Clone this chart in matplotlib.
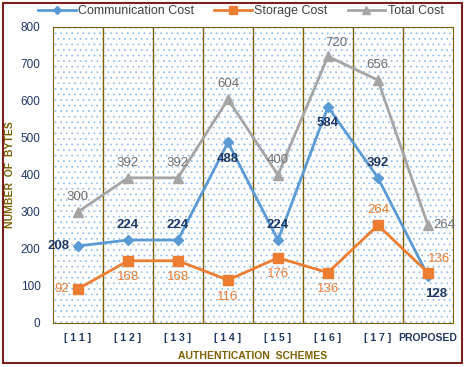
import numpy as np
import matplotlib.pyplot as plt
from matplotlib.patches import Rectangle

schemes = ['[ 1 1 ]', '[ 1 2 ]', '[ 1 3 ]', '[ 1 4 ]', '[ 1 5 ]', '[ 1 6 ]', '[ 1 7 ]', 'PROPOSED']
comm = [208, 224, 224, 488, 224, 584, 392, 128]
storage = [92, 168, 168, 116, 176, 136, 264, 136]
total = [300, 392, 392, 604, 400, 720, 656, 264]

# label placement per point: (dx, dy) in points
comm_off = [(-14, 0), (0, 11), (0, 11), (0, -12), (0, 11), (0, -12), (0, 11), (6, -13)]
stor_off = [(-12, 0), (0, -12), (0, -12), (0, -12), (0, -12), (0, -12), (0, 11), (8, 10)]
tot_off = [(0, 11), (0, 11), (0, 11), (0, 11), (0, 11), (6, 10), (0, 11), (12, 0)]

blue, orange, gray = '#5B9BD5', '#ED7D31', '#A5A5A5'
navy, olive = '#1F3864', '#7F6000'

plt.rcParams['font.family'] = ['Liberation Sans', 'DejaVu Sans']
plt.rcParams['hatch.linewidth'] = 0.5
fig = plt.figure(figsize=(4.65, 3.67), dpi=100)
fig.patches.append(Rectangle((0.006, 0.012), 0.988, 0.98, transform=fig.transFigure,
                             fill=False, edgecolor='#7B1F1F', linewidth=1.5))
ax = fig.add_axes([0.114, 0.120, 0.860, 0.807])

x = np.arange(len(schemes))
ax.add_patch(Rectangle((-0.5, 0), len(schemes), 800, facecolor='white',
                       hatch='...', edgecolor='#8DBBE8', linewidth=0, zorder=0))
for b in np.arange(0.5, len(schemes) - 0.5, 1):
    ax.axvline(b, color=olive, linewidth=1, zorder=1)

ax.plot(x, comm, color=blue, marker='D', markersize=5, linewidth=2, label='Communication Cost', zorder=3)
ax.plot(x, storage, color=orange, marker='s', markersize=7, linewidth=2, label='Storage Cost', zorder=3)
ax.plot(x, total, color=gray, marker='^', markersize=7, linewidth=2, label='Total Cost', zorder=3)

for vals, offs, col, w in [(comm, comm_off, navy, 'bold'), (storage, stor_off, orange, 'normal'),
                           (total, tot_off, '#707070', 'normal')]:
    for xi, v, (dx, dy) in zip(x, vals, offs):
        ax.annotate(str(v), (xi, v), xytext=(dx, dy), textcoords='offset points',
                    ha='center', va='center', color=col, fontsize=9.5, fontweight=w, zorder=4)

ax.set_xlim(-0.5, len(schemes) - 0.5)
ax.set_ylim(0, 800)
ax.set_yticks(range(0, 801, 100))
ax.set_xticks(x)
ax.set_xticklabels(schemes, fontsize=7.5, fontweight='bold', color=navy)
ax.tick_params(axis='y', labelsize=8.5, labelcolor=navy, length=0, pad=9)
ax.tick_params(axis='x', length=0, pad=7)
for s in ax.spines.values():
    s.set_color(olive)
ax.set_xlabel('AUTHENTICATION  SCHEMES', fontsize=7.5, fontweight='bold', color=olive, labelpad=6)
ax.set_ylabel('NUMBER  OF  BYTES', fontsize=7.5, fontweight='bold', color=olive, labelpad=4)

ax.legend(loc='lower center', bbox_to_anchor=(0.47, 0.995), ncol=3, frameon=False,
          fontsize=9, handlelength=3, columnspacing=1.6, handletextpad=0.2,
          labelcolor='#404040', markerscale=0.8)

fig.savefig('out.png', dpi=100)
